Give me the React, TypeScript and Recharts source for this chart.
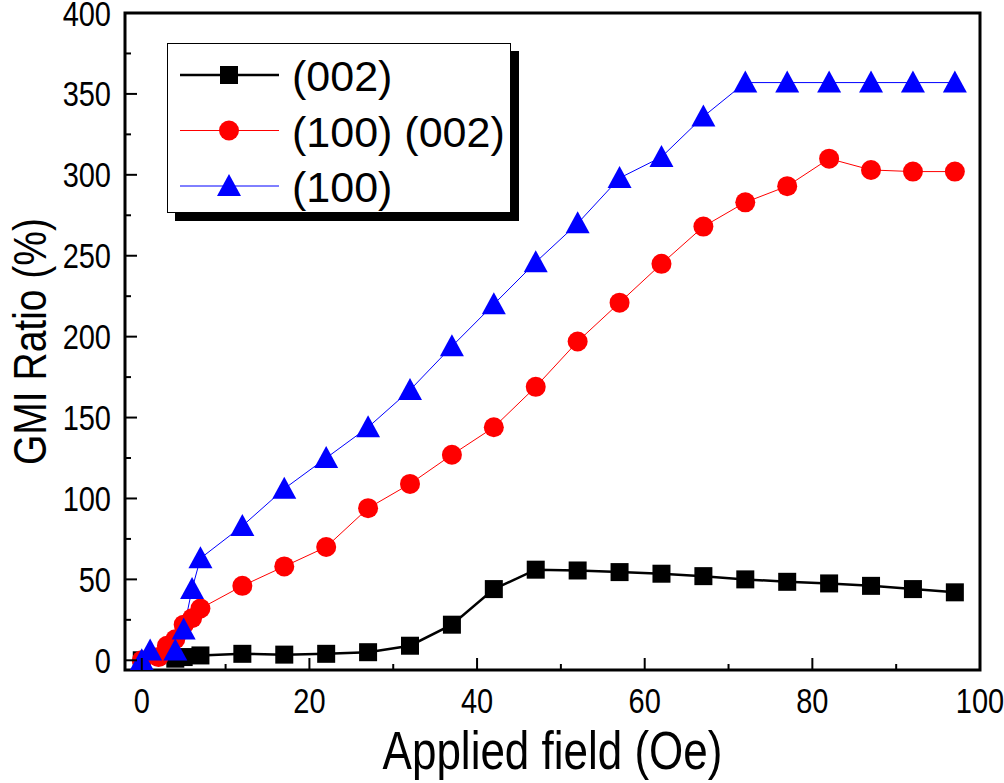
import { LineChart, Line, XAxis, YAxis, ReferenceArea, Legend } from 'recharts'

// (002) oriented film
const field002 = [0, 4, 5, 7, 12, 17, 22, 27, 32, 37, 42, 47, 52, 57, 62, 67, 72, 77, 82, 87, 92, 97]
const gmi002 = [0, 1, 2, 3, 4, 3.5, 4, 5, 9, 22, 44, 56, 55.5, 54.5, 53.5, 52, 50, 48.5, 47.5, 46, 44, 42]

// (100)(002) mixed film
const fieldMixed = [0, 2, 3, 4, 5, 6, 7, 12, 17, 22, 27, 32, 37, 42, 47, 52, 57, 62, 67, 72, 77, 82, 87, 92, 97]
const gmiMixed = [0, 2, 9, 13, 22, 26, 32, 46, 58, 70, 94, 109, 127, 144, 169, 197, 221, 245, 268, 283, 293, 310, 303, 302, 302]

// (100) oriented film
const field100 = [0, 1, 4, 5, 6, 7, 12, 17, 22, 27, 32, 37, 42, 47, 52, 57, 62, 67, 72, 77, 82, 87, 92, 97]
const gmi100 = [0, 6, 6, 19, 44, 63, 83, 106, 125, 144, 167, 194, 220, 246, 270, 298, 311, 336, 357, 357, 357, 357, 357, 357]

const xTicks = [0, 10, 20, 30, 40, 50, 60, 70, 80, 90, 100]
const yTicks = [0, 25, 50, 75, 100, 125, 150, 175, 200, 225, 250, 275, 300, 325, 350, 375, 400]

const seriesNames = ['(002)', '(100) (002)', '(100)']
const seriesColors = ['#000000', '#ff0000', '#0000ff']

const toRows = (xs: number[], ys: number[]) => xs.map((f, i) => ({ field: f, gmi: ys[i] }))

const FONT = '"Liberation Sans", Arial, sans-serif'

const Square = (props: any) => {
  const { cx, cy } = props
  if (cx == null || cy == null) return null
  return <rect x={cx - 9} y={cy - 9} width={18} height={18} fill="#000" />
}

const Circle = (props: any) => {
  const { cx, cy } = props
  if (cx == null || cy == null) return null
  return <circle cx={cx} cy={cy} r={10} fill="#ff0000" />
}

const Triangle = (props: any) => {
  const { cx, cy } = props
  if (cx == null || cy == null) return null
  return <polygon points={`${cx},${cy - 12} ${cx + 12},${cy + 10} ${cx - 12},${cy + 10}`} fill="#0000ff" />
}

const markers = [Square, Circle, Triangle]

// text that is a little taller than wide, like the original export
const TallText = ({ x, y, size, anchor, rotate, children }: any) => (
  <text
    x={0}
    y={0}
    transform={`translate(${x} ${y})${rotate ? ' rotate(-90)' : ''} scale(1 1.2)`}
    textAnchor={anchor}
    fontSize={size}
    fontFamily={FONT}
    fill="#000"
  >
    {children}
  </text>
)

const XTick = (props: any) => {
  const { x, y, payload } = props
  const v = payload.value
  const major = v % 20 === 0
  return (
    <g>
      <line x1={x} x2={x} y1={y} y2={y - (major ? 12 : 6)} stroke="#000" strokeWidth={2} />
      {major && (
        <TallText x={x} y={y + 43} size={29} anchor="middle">
          {v}
        </TallText>
      )}
    </g>
  )
}

const YTick = (props: any) => {
  const { x, y, payload } = props
  const v = payload.value
  const major = v % 50 === 0
  return (
    <g>
      <line x1={x} x2={x + (major ? 12 : 6)} y1={y} y2={y} stroke="#000" strokeWidth={2} />
      {major && (
        <TallText x={x - 14} y={y + 12.5} size={29} anchor="end">
          {v}
        </TallText>
      )}
    </g>
  )
}

const LegendBox = () => (
  <div
    style={{
      width: 344,
      height: 170,
      border: '1px solid #000',
      background: '#fff',
      boxShadow: '8px 8px 0 #000',
      boxSizing: 'border-box',
    }}
  >
    <svg width={342} height={168}>
      {seriesNames.map((name, i) => {
        const cy = 31 + i * 55.5
        const Marker = markers[i]
        return (
          <g key={name}>
            <line x1={12} x2={111} y1={cy} y2={cy} stroke={seriesColors[i]} strokeWidth={i === 0 ? 2.5 : 1} />
            <Marker cx={61} cy={cy} />
            <text x={124} y={cy + 16} fontSize={43} fontFamily={FONT} fill="#000">
              {name}
            </text>
          </g>
        )
      })}
    </svg>
  </div>
)

export default function App() {
  return (
    <div style={{ position: 'absolute', left: 0, top: 0, width: 1004, height: 783, background: '#fff' }}>
      <LineChart width={1004} height={783} margin={{ top: 13, right: 24, bottom: 0, left: 0 }}>
        <XAxis
          dataKey="field"
          type="number"
          domain={[-2, 100]}
          ticks={xTicks}
          interval={0}
          allowDataOverflow
          height={113}
          axisLine={false}
          tickLine={false}
          tickSize={0}
          tickMargin={0}
          tick={<XTick />}
          label={{
            content: (p: any) => {
              const vb = p.viewBox
              return (
                <TallText x={vb.x + vb.width / 2} y={vb.y + 99} size={44} anchor="middle">
                  Applied field (Oe)
                </TallText>
              )
            },
          }}
        />
        <YAxis
          dataKey="gmi"
          type="number"
          domain={[-6, 400]}
          ticks={yTicks}
          interval={0}
          allowDataOverflow
          width={125}
          axisLine={false}
          tickLine={false}
          tickSize={0}
          tickMargin={0}
          tick={<YTick />}
          label={{
            content: (p: any) => {
              const vb = p.viewBox
              const cy = vb.y + vb.height / 2
              return (
                <TallText x={46} y={cy} size={39} anchor="middle" rotate>
                  GMI Ratio (%)
                </TallText>
              )
            },
          }}
        />
        <ReferenceArea x1={-2} x2={100} y1={-6} y2={400} fill="none" fillOpacity={0} stroke="#000" strokeWidth={3} />
        <Line
          data={toRows(field002, gmi002)}
          dataKey="gmi"
          name={seriesNames[0]}
          stroke={seriesColors[0]}
          strokeWidth={2.5}
          dot={<Square />}
          isAnimationActive={false}
        />
        <Line
          data={toRows(fieldMixed, gmiMixed)}
          dataKey="gmi"
          name={seriesNames[1]}
          stroke={seriesColors[1]}
          strokeWidth={1}
          dot={<Circle />}
          isAnimationActive={false}
        />
        <Line
          data={toRows(field100, gmi100)}
          dataKey="gmi"
          name={seriesNames[2]}
          stroke={seriesColors[2]}
          strokeWidth={1}
          dot={<Triangle />}
          isAnimationActive={false}
        />
        <Legend
          layout="vertical"
          align="center"
          verticalAlign="middle"
          content={<LegendBox />}
          wrapperStyle={{ left: 167, top: 43, width: 344, height: 170 }}
        />
      </LineChart>
    </div>
  )
}
